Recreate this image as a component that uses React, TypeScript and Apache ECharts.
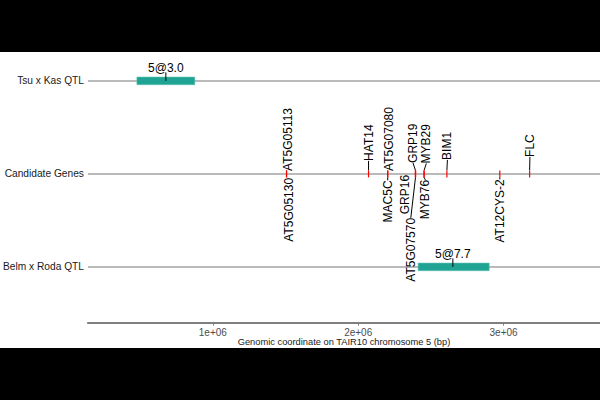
import React, { useEffect, useRef } from "react";
import * as echarts from "echarts";

// ---- data ----
const trackValues = [1, 2, 3];
const trackNames = ["Belm x Roda QTL", "Candidate Genes", "Tsu x Kas QTL"];

const xTickValues = [1000000, 2000000, 3000000];
const xTickLabels = ["1e+06", "2e+06", "3e+06"];

const qtlNames = ["5@3.0", "5@7.7"];
const qtlTracks = [3, 1];
const qtlStarts = [478000, 2412000];
const qtlEnds = [876000, 2901000];
const qtlPeaks = [677000, 2651000];

const geneNames = [
  "AT5G05113", "AT5G05130", "HAT14", "AT5G07080", "MAC5C",
  "GRP19", "GRP16", "AT5G07570", "MYB29", "MYB76",
  "BIM1", "AT12CYS-2", "FLC",
];
const genePositions = [
  1507000, 1507000, 2071000, 2203000, 2203000,
  2394000, 2394000, 2394000, 2453000, 2453000,
  2610000, 2974000, 3179000,
];
const geneTrack = 2;

// ---- label layout (repelled label placement, px) ----
const labelAbove = [true, false, true, true, false, true, false, false, true, false, true, false, true];
const labelDx = [1, 2, 0, 1.5, 0, -2.5, -10.5, -4.7, 2.3, 1.3, 0.5, 0, 0.3];
const labelGap = [3, 4, 13, 3, 6.5, 11, 1, 44, 10.5, 6, 14, 5.5, 17];

const X_MIN = 141300;
const X_MAX = 3663000;
const FONT = '"Liberation Sans", Arial, Helvetica, sans-serif';

export default function App() {
  const ref = useRef<HTMLDivElement>(null);

  useEffect(() => {
    if (!ref.current) return;
    const chart = echarts.init(ref.current, null, { renderer: "svg" });

    const trackData = trackValues.map((t) => [X_MIN, t]);
    const qtlData = qtlNames.map((_, i) => [qtlStarts[i], qtlTracks[i], qtlEnds[i], qtlPeaks[i], i]);
    const geneData = geneNames.map((_, i) => [genePositions[i], geneTrack, i]);

    const option: any = {
      animation: false,
      backgroundColor: "#ffffff",
      grid: { left: 84, right: 0, top: 43.7, bottom: 77.3 },
      xAxis: {
        type: "value",
        min: X_MIN,
        max: X_MAX,
        name: "Genomic coordinate on TAIR10 chromosome 5 (bp)",
        nameLocation: "middle",
        nameGap: 14.5,
        nameMoveOverlap: false,
        nameTextStyle: { fontSize: 9.3, color: "#1a1a1a", fontFamily: FONT, verticalAlign: "top" },
        axisLine: { show: true, lineStyle: { color: "#7f7f7f", width: 2 } },
        axisTick: { show: true, customValues: xTickValues, length: 3, lineStyle: { color: "#7f7f7f", width: 1 } },
        axisLabel: {
          customValues: xTickValues,
          formatter: (v: number) => {
            const i = xTickValues.indexOf(v);
            return i >= 0 ? xTickLabels[i] : "";
          },
          fontSize: 10,
          color: "#4d4d4d",
          fontFamily: FONT,
          margin: 5,
        },
        splitLine: { show: false },
      },
      yAxis: {
        type: "value",
        min: 0.4,
        max: 3.4,
        axisLine: { show: false },
        axisTick: { show: false },
        splitLine: { show: false },
        axisLabel: {
          customValues: trackValues,
          formatter: (v: number) => {
            const i = trackValues.indexOf(v);
            return i >= 0 ? trackNames[i] : "";
          },
          fontSize: 10.2,
          color: "#1a1a1a",
          fontFamily: FONT,
          margin: 4,
        },
      },
      series: [
        {
          type: "custom",
          name: "tracks",
          z: 1,
          data: trackData,
          renderItem: (params: any, api: any) => {
            const p = api.coord([api.value(0), api.value(1)]);
            const cs = params.coordSys;
            return {
              type: "line",
              shape: { x1: cs.x, y1: p[1], x2: cs.x + cs.width, y2: p[1] },
              style: { stroke: "#a3a3a3", lineWidth: 1.5 },
            };
          },
        },
        {
          type: "custom",
          name: "qtl",
          z: 2,
          data: qtlData,
          renderItem: (params: any, api: any) => {
            const i = api.value(4);
            const a = api.coord([api.value(0), api.value(1)]);
            const b = api.coord([api.value(2), api.value(1)]);
            const pk = api.coord([api.value(3), api.value(1)]);
            const y = a[1];
            return {
              type: "group",
              children: [
                {
                  type: "rect",
                  shape: { x: a[0], y: y - 3.8, width: b[0] - a[0], height: 7.6 },
                  style: { fill: "#1fa392", stroke: "#5cc0b2", lineWidth: 0.6 },
                },
                {
                  type: "line",
                  shape: { x1: pk[0], y1: y - 8.5, x2: pk[0], y2: y },
                  style: { stroke: "#000", lineWidth: 1 },
                },
                {
                  type: "text",
                  x: pk[0],
                  y: y - 12.5,
                  style: {
                    text: qtlNames[i],
                    fill: "#000",
                    font: `12px ${FONT}`,
                    align: "center",
                    verticalAlign: "middle",
                  },
                },
              ],
            };
          },
        },
        {
          type: "custom",
          name: "genes",
          z: 3,
          data: geneData,
          renderItem: (params: any, api: any) => {
            const i = api.value(2);
            const p = api.coord([api.value(0), api.value(1)]);
            const x = p[0];
            const y = p[1];
            const above = labelAbove[i];
            const lx = x + labelDx[i];
            const ly = above ? y - labelGap[i] : y + labelGap[i];
            const children: any[] = [];
            const tickEnd = above ? y - 3.5 : y + 3.5;
            if (labelGap[i] > 4.5) {
              children.push({
                type: "line",
                shape: { x1: x, y1: tickEnd, x2: lx, y2: ly },
                style: { stroke: "#000", lineWidth: 1 },
              });
            }
            children.push({
              type: "line",
              shape: { x1: x, y1: y - 3.5, x2: x, y2: y + 3.5 },
              style: { stroke: "#ff0000", lineWidth: 1.2 },
            });
            children.push({
              type: "text",
              x: lx,
              y: ly,
              rotation: Math.PI / 2,
              style: {
                text: geneNames[i],
                fill: "#000",
                font: `12px ${FONT}`,
                align: above ? "left" : "right",
                verticalAlign: "middle",
              },
            });
            return { type: "group", children };
          },
        },
      ],
      graphic: [
        { type: "rect", z: 100, shape: { x: 0, y: 0, width: 600, height: 52 }, style: { fill: "#000" } },
        { type: "rect", z: 100, shape: { x: 0, y: 348, width: 600, height: 52 }, style: { fill: "#000" } },
      ],
    };

    chart.setOption(option);
    return () => chart.dispose();
  }, []);

  return (
    <div
      ref={ref}
      style={{ position: "fixed", left: 0, top: 0, width: 600, height: 400 }}
    />
  );
}
